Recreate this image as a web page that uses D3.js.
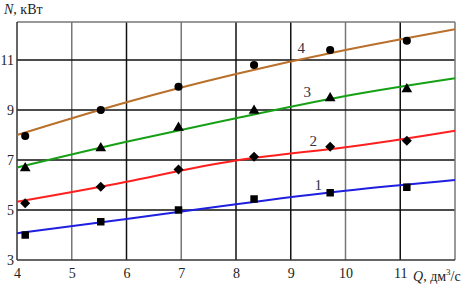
<!DOCTYPE html>
<html>
<head>
<meta charset="utf-8">
<script src="https://cdn.jsdelivr.net/npm/d3@7"></script>
<style>
  body { margin: 0; background: #fff; }
</style>
</head>
<body>
<div id="chart"></div>
<script>
// measured points (Q, N) for each curve
const qMeas = [4.15, 5.53, 6.95, 8.33, 9.72, 11.12];
const n1 = [4.0, 4.53, 5.0, 5.44, 5.69, 5.91];
const n2 = [5.27, 5.93, 6.62, 7.13, 7.53, 7.77];
const n3 = [6.67, 7.47, 8.29, 8.97, 9.47, 9.83];
const n4 = [7.96, 9.0, 9.93, 10.8, 11.4, 11.77];

// fitted curves
const qFit = [4, 6, 8, 10, 12];
const f1 = [4.07, 4.64, 5.23, 5.77, 6.2];
const f2 = [5.33, 6.13, 6.98, 7.51, 8.17];
const f3 = [6.7, 7.73, 8.67, 9.56, 10.27];
const f4 = [8.0, 9.31, 10.44, 11.4, 12.23];

const xTicks = [4, 5, 6, 7, 8, 9, 10, 11];
const yTicks = [3, 5, 7, 9, 11];
const labels = ["1", "2", "3", "4"];
const labelPos = [[9.5, 5.8], [9.41, 7.56], [9.3, 9.52], [9.19, 11.28]];

const serif = "'Liberation Serif', 'DejaVu Serif', serif";
const w = 476, h = 288;
const x = d3.scaleLinear().domain([4, 12]).range([17, 455]);
const y = d3.scaleLinear().domain([3, 12.52]).range([260, 22]);

const svg = d3.select("#chart").append("svg")
  .attr("width", w).attr("height", h);

// grid, mixed dark and grey lines as in the scan
const darkX = [6, 8, 9, 11];
svg.append("g").selectAll("line").data(d3.range(5, 12)).enter().append("line")
  .attr("x1", d => x(d)).attr("x2", d => x(d))
  .attr("y1", y(3)).attr("y2", y(12.52))
  .attr("stroke", d => darkX.includes(d) ? "#111" : "#777")
  .attr("stroke-width", 1.5);

svg.append("g").selectAll("line").data([5, 7, 9, 11]).enter().append("line")
  .attr("x1", x(4)).attr("x2", x(12))
  .attr("y1", d => y(d)).attr("y2", d => y(d))
  .attr("stroke", "#111").attr("stroke-width", 1.5);

// frame
svg.append("line").attr("x1", x(4)).attr("x2", x(12)).attr("y1", y(12.52)).attr("y2", y(12.52))
  .attr("stroke", "#777").attr("stroke-width", 1.5);
svg.append("line").attr("x1", x(12)).attr("x2", x(12)).attr("y1", y(3)).attr("y2", y(12.52))
  .attr("stroke", "#777").attr("stroke-width", 1.5);
svg.append("line").attr("x1", x(4)).attr("x2", x(12)).attr("y1", y(3)).attr("y2", y(3))
  .attr("stroke", "#333").attr("stroke-width", 1.5);
svg.append("line").attr("x1", x(4)).attr("x2", x(4)).attr("y1", y(3)).attr("y2", y(12.52))
  .attr("stroke", "#333").attr("stroke-width", 1.5);

// axes (only tick labels)
const xAxis = d3.axisBottom(x).tickValues(xTicks).tickSize(0).tickPadding(8);
svg.append("g").attr("transform", "translate(0," + y(3) + ")").call(xAxis)
  .attr("font-family", serif).attr("font-size", 14)
  .call(g => g.select(".domain").remove())
  .call(g => g.selectAll("text").attr("fill", "#222"));

const yAxis = d3.axisLeft(y).tickValues(yTicks).tickSize(0).tickPadding(3);
svg.append("g").attr("transform", "translate(" + x(4) + ",0)").call(yAxis)
  .attr("font-family", serif).attr("font-size", 14)
  .call(g => g.select(".domain").remove())
  .call(g => g.selectAll("text").attr("fill", "#222"));

// axis titles
const yt = svg.append("text").attr("x", 4).attr("y", 14)
  .attr("font-family", serif).attr("font-size", 14).attr("fill", "#222");
yt.append("tspan").attr("font-style", "italic").text("N");
yt.append("tspan").text(", кВт");

const xt = svg.append("text").attr("x", 413).attr("y", 281)
  .attr("font-family", serif).attr("font-size", 14).attr("fill", "#222");
xt.append("tspan").attr("font-style", "italic").text("Q");
xt.append("tspan").text(", дм");
xt.append("tspan").attr("dy", -6).attr("font-size", 9).text("3");
xt.append("tspan").attr("dy", 6).text("/с");

// fitted curves
const colors = ["#1f1fe0", "#ff1f1f", "#16a016", "#b8702a"];
const fits = [f1, f2, f3, f4];
const line = d3.line().x((d, i) => x(qFit[i])).y(d => y(d)).curve(d3.curveNatural);
fits.forEach((f, k) => {
  svg.append("path").attr("d", line(f))
    .attr("fill", "none").attr("stroke", colors[k]).attr("stroke-width", 2);
});

// markers: square, diamond (rotated square), triangle, circle
const meas = [n1, n2, n3, n4];
const shapes = [d3.symbolSquare, d3.symbolSquare, d3.symbolTriangle, d3.symbolCircle];
const sizes = [56, 50, 50, 52];
const rot = [0, 45, 0, 0];
meas.forEach((s, k) => {
  svg.append("g").selectAll("path").data(s).enter().append("path")
    .attr("d", d3.symbol().type(shapes[k]).size(sizes[k]))
    .attr("transform", (d, i) => "translate(" + x(qMeas[i]) + "," + y(d) + ") rotate(" + rot[k] + ")")
    .attr("fill", "#000");
});

// curve numbers
svg.append("g").selectAll("text").data(labels).enter().append("text")
  .attr("x", (d, i) => x(labelPos[i][0])).attr("y", (d, i) => y(labelPos[i][1]))
  .attr("text-anchor", "middle").attr("font-family", serif).attr("font-size", 15)
  .attr("fill", "#334").text(d => d);
</script>
</body>
</html>
